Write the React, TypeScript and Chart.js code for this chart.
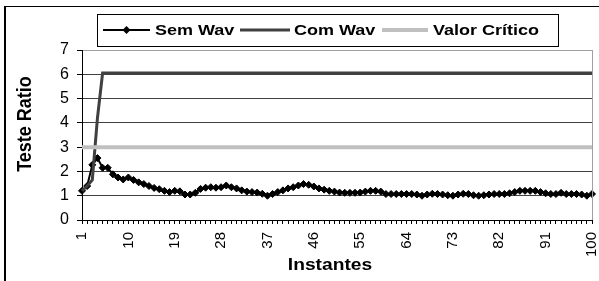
import React, { useEffect, useRef } from "react";
import { Chart, registerables } from "chart.js";

Chart.register(...registerables);

const instantes = [
  "1","2","3","4","5","6","7","8","9","10",
  "11","12","13","14","15","16","17","18","19","20",
  "21","22","23","24","25","26","27","28","29","30",
  "31","32","33","34","35","36","37","38","39","40",
  "41","42","43","44","45","46","47","48","49","50",
  "51","52","53","54","55","56","57","58","59","60",
  "61","62","63","64","65","66","67","68","69","70",
  "71","72","73","74","75","76","77","78","79","80",
  "81","82","83","84","85","86","87","88","89","90",
  "91","92","93","94","95","96","97","98","99","100",
];

const semWav = [
  1.2, 1.4, 2.27, 2.55, 2.15, 2.15, 1.88, 1.75, 1.67, 1.75,
  1.65, 1.55, 1.48, 1.4, 1.32, 1.27, 1.2, 1.15, 1.2, 1.18,
  1.05, 1.05, 1.12, 1.28, 1.33, 1.35, 1.33, 1.35, 1.42, 1.35,
  1.3, 1.22, 1.17, 1.15, 1.13, 1.08, 1.0, 1.07, 1.15, 1.22,
  1.3, 1.35, 1.42, 1.48, 1.45, 1.38, 1.3, 1.25, 1.2, 1.17,
  1.13, 1.12, 1.12, 1.12, 1.13, 1.17, 1.2, 1.2, 1.17, 1.07,
  1.07, 1.07, 1.07, 1.07, 1.07, 1.05, 1.0, 1.05, 1.08, 1.07,
  1.05, 1.02, 1.0, 1.05, 1.08, 1.07, 1.02, 1.0, 1.02, 1.05,
  1.07, 1.07, 1.07, 1.1, 1.15, 1.2, 1.2, 1.2, 1.2, 1.15,
  1.1, 1.07, 1.07, 1.12, 1.07, 1.07, 1.07, 1.05, 1.0, 1.07,
];

const comWav = [
  1.2, 1.4, 1.65, 4.2, 6.05, 6.05, 6.05, 6.05, 6.05, 6.05,
  6.05, 6.05, 6.05, 6.05, 6.05, 6.05, 6.05, 6.05, 6.05, 6.05,
  6.05, 6.05, 6.05, 6.05, 6.05, 6.05, 6.05, 6.05, 6.05, 6.05,
  6.05, 6.05, 6.05, 6.05, 6.05, 6.05, 6.05, 6.05, 6.05, 6.05,
  6.05, 6.05, 6.05, 6.05, 6.05, 6.05, 6.05, 6.05, 6.05, 6.05,
  6.05, 6.05, 6.05, 6.05, 6.05, 6.05, 6.05, 6.05, 6.05, 6.05,
  6.05, 6.05, 6.05, 6.05, 6.05, 6.05, 6.05, 6.05, 6.05, 6.05,
  6.05, 6.05, 6.05, 6.05, 6.05, 6.05, 6.05, 6.05, 6.05, 6.05,
  6.05, 6.05, 6.05, 6.05, 6.05, 6.05, 6.05, 6.05, 6.05, 6.05,
  6.05, 6.05, 6.05, 6.05, 6.05, 6.05, 6.05, 6.05, 6.05, 6.05,
];

const valorCritico = [
  3, 3, 3, 3, 3, 3, 3, 3, 3, 3,
  3, 3, 3, 3, 3, 3, 3, 3, 3, 3,
  3, 3, 3, 3, 3, 3, 3, 3, 3, 3,
  3, 3, 3, 3, 3, 3, 3, 3, 3, 3,
  3, 3, 3, 3, 3, 3, 3, 3, 3, 3,
  3, 3, 3, 3, 3, 3, 3, 3, 3, 3,
  3, 3, 3, 3, 3, 3, 3, 3, 3, 3,
  3, 3, 3, 3, 3, 3, 3, 3, 3, 3,
  3, 3, 3, 3, 3, 3, 3, 3, 3, 3,
  3, 3, 3, 3, 3, 3, 3, 3, 3, 3,
];

const xTickLabels = ["1", "10", "19", "28", "37", "46", "55", "64", "73", "82", "91", "100"];
const yMin = 0;
const yMax = 7;
const yStep = 1;

const seriesNames = ["Sem Wav", "Com Wav", "Valor Crítico"];
const seriesColors = ["#000000", "#404040", "#c0c0c0"];
const yTitle = "Teste Ratio";
const xTitle = "Instantes";

const FONT = '"Liberation Sans", Arial, sans-serif';

const decorPlugin = {
  id: "decor",
  beforeDraw(chart: any) {
    const ctx = chart.ctx;
    ctx.save();
    ctx.fillStyle = "#ffffff";
    ctx.fillRect(0, 0, chart.width, chart.height);
    ctx.fillStyle = "#000000";
    ctx.fillRect(4, 6, 2, chart.height - 6);
    ctx.fillRect(4, 6, chart.width - 4, 1);
    ctx.restore();
  },
  afterDraw(chart: any) {
    const ctx = chart.ctx;
    const { top, bottom, right } = chart.chartArea;
    ctx.save();
    ctx.strokeStyle = "#a0a0a0";
    ctx.lineWidth = 1;
    ctx.beginPath();
    ctx.moveTo(Math.round(right) + 0.5, top);
    ctx.lineTo(Math.round(right) + 0.5, bottom);
    ctx.stroke();

    ctx.fillStyle = "#ffffff";
    ctx.fillRect(97, 14, 461, 32);
    ctx.strokeStyle = "#000000";
    ctx.lineWidth = 1;
    ctx.strokeRect(97.5, 14.5, 461, 32);
    const ly = 30;
    const items = [
      { x0: 103, x1: 150, tx: 155, w: 2 },
      { x0: 240, x1: 290, tx: 294, w: 3 },
      { x0: 382, x1: 428, tx: 433, w: 4 },
    ];
    items.forEach((it, i) => {
      ctx.strokeStyle = seriesColors[i];
      ctx.lineWidth = it.w;
      ctx.beginPath();
      ctx.moveTo(it.x0, ly);
      ctx.lineTo(it.x1, ly);
      ctx.stroke();
      if (i === 0) {
        const cx = (it.x0 + it.x1) / 2;
        ctx.fillStyle = "#000";
        ctx.beginPath();
        ctx.moveTo(cx, ly - 4);
        ctx.lineTo(cx + 4, ly);
        ctx.lineTo(cx, ly + 4);
        ctx.lineTo(cx - 4, ly);
        ctx.closePath();
        ctx.fill();
      }
      ctx.save();
      ctx.translate(it.tx, ly);
      ctx.scale(1.2, 1);
      ctx.fillStyle = "#000";
      ctx.font = `bold 15px ${FONT}`;
      ctx.textBaseline = "middle";
      ctx.textAlign = "left";
      ctx.fillText(seriesNames[i], 0, 1);
      ctx.restore();
    });

    ctx.save();
    ctx.translate(25, 124);
    ctx.rotate(-Math.PI / 2);
    ctx.scale(1, 1.15);
    ctx.fillStyle = "#000";
    ctx.font = `bold 18px ${FONT}`;
    ctx.textAlign = "center";
    ctx.textBaseline = "middle";
    ctx.fillText(yTitle, 0, 0);
    ctx.restore();

    ctx.save();
    ctx.translate(330, 266);
    ctx.scale(1.2, 1);
    ctx.fillStyle = "#000";
    ctx.font = `bold 16px ${FONT}`;
    ctx.textAlign = "center";
    ctx.textBaseline = "middle";
    ctx.fillText(xTitle, 0, 0);
    ctx.restore();

    ctx.restore();
  },
};

export default function App() {
  const ref = useRef<HTMLCanvasElement | null>(null);

  useEffect(() => {
    if (!ref.current) return;
    Chart.defaults.font.family = FONT;
    const chart = new Chart(ref.current, {
      type: "line",
      data: {
        labels: instantes,
        datasets: [
          {
            label: seriesNames[0],
            data: semWav,
            borderColor: seriesColors[0],
            backgroundColor: seriesColors[0],
            borderWidth: 2,
            pointStyle: "rectRot",
            pointRadius: 3.5,
            pointBorderWidth: 1,
            pointBorderColor: "#000",
            pointBackgroundColor: "#000",
            tension: 0,
            order: 3,
          },
          {
            label: seriesNames[1],
            data: comWav,
            borderColor: seriesColors[1],
            backgroundColor: seriesColors[1],
            borderWidth: 3,
            pointRadius: 0,
            tension: 0,
            order: 2,
          },
          {
            label: seriesNames[2],
            data: valorCritico,
            borderColor: seriesColors[2],
            backgroundColor: seriesColors[2],
            borderWidth: 4,
            pointRadius: 0,
            tension: 0,
            order: 1,
          },
        ],
      },
      options: {
        responsive: false,
        animation: false,
        devicePixelRatio: 1,
        layout: { padding: { top: 50, right: 7, left: 0, bottom: 0 } },
        plugins: {
          legend: { display: false },
          tooltip: { enabled: false },
          title: { display: false },
        },
        scales: {
          x: {
            type: "category",
            offset: false,
            grid: {
              display: true,
              drawOnChartArea: false,
              drawTicks: true,
              tickLength: 4,
              color: "#000",
              tickColor: "#000",
            },
            border: { display: true, color: "#000", width: 1 },
            ticks: {
              autoSkip: false,
              maxRotation: 90,
              minRotation: 90,
              padding: 8,
              color: "#000",
              font: { size: 15, family: FONT },
              callback: (_v: any, i: number) =>
                xTickLabels.includes(instantes[i]) ? instantes[i] : "",
            },
            afterFit: (s: any) => {
              s.height = 61;
              s.paddingLeft = 0;
              s.paddingRight = 0;
            },
          },
          y: {
            min: yMin,
            max: yMax,
            ticks: {
              stepSize: yStep,
              padding: 8,
              color: "#000",
              font: { size: 16, family: FONT },
            },
            grid: {
              color: (c: any) => (c.tick && c.tick.value === yMax ? "#a0a0a0" : "#404040"),
              tickColor: "#000",
              tickLength: 5,
              drawTicks: true,
            },
            border: { display: true, color: "#000", width: 1 },
            afterFit: (s: any) => {
              s.width = 82;
            },
          },
        },
      },
      plugins: [decorPlugin],
    });
    return () => chart.destroy();
  }, []);

  return (
    <div style={{ position: "fixed", left: 0, top: 0, width: 599, height: 281 }}>
      <canvas ref={ref} width={599} height={281} />
    </div>
  );
}
